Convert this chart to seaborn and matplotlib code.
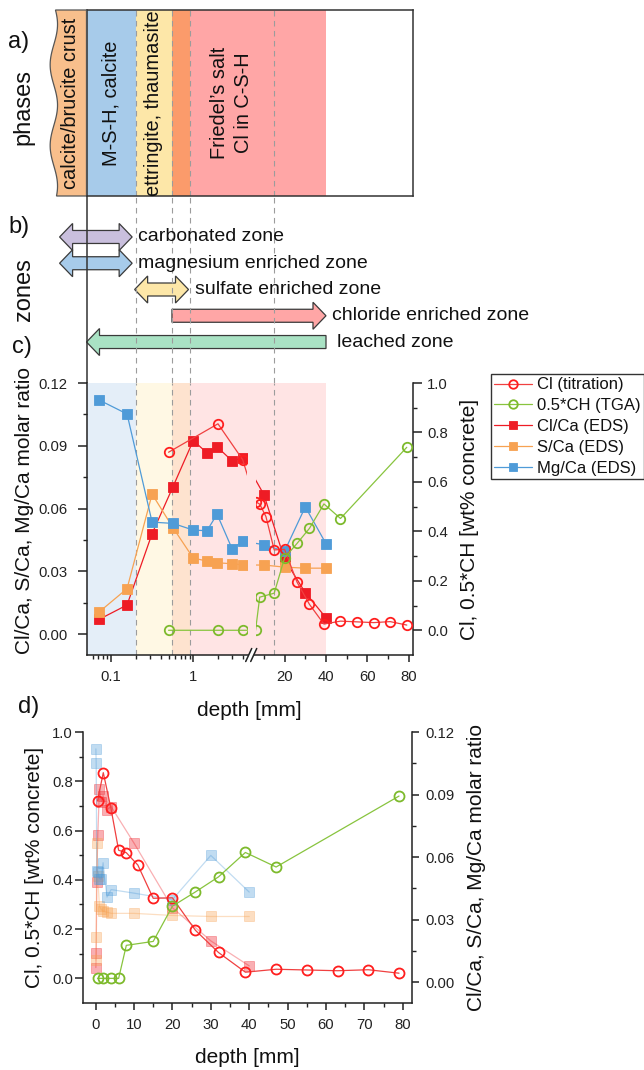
import numpy as np
import matplotlib
matplotlib.use("Agg")
import matplotlib.pyplot as plt
import matplotlib.transforms as mtransforms
from matplotlib.patches import Polygon
from matplotlib.lines import Line2D
from matplotlib.transforms import Bbox, TransformedBbox
import seaborn as sns

# ---------------- data ----------------
eds_depth = [0.071, 0.156, 0.315, 0.567, 1.0, 1.47, 1.95, 2.97, 4.05, 10, 20, 30, 40]
cl_ca = [0.0070, 0.0139, 0.0480, 0.0705, 0.0925, 0.0866, 0.0895, 0.0828, 0.0842, 0.0667, 0.0357, 0.0198, 0.0078]
s_ca = [0.0105, 0.0217, 0.0669, 0.0508, 0.0363, 0.0349, 0.0341, 0.0336, 0.0330, 0.0330, 0.0320, 0.0315, 0.0315]
mg_ca = [0.1119, 0.1052, 0.0535, 0.0529, 0.0497, 0.0494, 0.0573, 0.0408, 0.0444, 0.0427, 0.0396, 0.0608, 0.0432]

cl_depth = [0.5, 2, 4, 6, 8, 11, 15, 20, 26, 32, 39, 47, 55, 63, 71, 79]
cl_tit = [0.72, 0.835, 0.69, 0.52, 0.51, 0.46, 0.325, 0.327, 0.195, 0.105, 0.025, 0.037, 0.034, 0.031, 0.035, 0.021]

ch_depth = [0.5, 2, 4, 6, 8, 15, 20, 26, 32, 39, 47, 79]
ch_half = [0.0, 0.0, 0.0, 0.0, 0.134, 0.150, 0.293, 0.351, 0.412, 0.511, 0.452, 0.740]

series_labels = ["Cl (titration)", "0.5*CH (TGA)", "Cl/Ca (EDS)", "S/Ca (EDS)", "Mg/Ca (EDS)"]

# phases (panel a) and backgrounds (panel c)
phase_edges = [0.05, 0.2, 0.55, 0.9, 40]
phase_colors = ["#A7CBEA", "#FDE7A8", "#FB9B6B", "#FFA6A6"]
bg_colors = ["#E4EEF8", "#FFF8E4", "#FEE3CF", "#FFE4E4"]
boundary_depths = [0.2, 0.55, 0.9, 15]
crust_edge = 0.02
crust_label = "calcite/brucite crust"
phase_labels = ["M-S-H, calcite", "ettringite, thaumasite", "Friedel\u2019s salt\nCl in C-S-H"]
phase_label_depth = [0.1, 0.33, 2.9]

# zones (panel b)
zone_names = ["carbonated zone", "magnesium enriched zone", "sulfate enriched zone",
              "chloride enriched zone", "leached zone"]
zone_start = [0.0235, 0.0235, 0.193, 0.55, 0.05]
zone_end = [0.18, 0.18, 0.875, 40, 40]
zone_heads = ["both", "both", "both", "right", "left"]
zone_colors = ["#C9BFDD", "#A7CBEA", "#FDE7A8", "#FFA6A6", "#A9E2C4"]

# ticks
c_xticks = [0.1, 1, 20, 40, 60, 80]
c_xticklabels = ["0.1", "1", "20", "40", "60", "80"]
c_xminor = [0.06, 0.07, 0.08, 0.09, 0.2, 0.3, 0.4, 0.5, 0.6, 0.7, 0.8, 0.9, 2, 3, 4, 10, 30, 50, 70]
ratio_ticks = [0.0, 0.03, 0.06, 0.09, 0.12]
ratio_minor = [0.015, 0.045, 0.075, 0.105]
wt_ticks = [0.0, 0.2, 0.4, 0.6, 0.8, 1.0]
wt_minor = [0.1, 0.3, 0.5, 0.7, 0.9]
d_xticks = [0, 10, 20, 30, 40, 50, 60, 70, 80]
d_xminor = [5, 15, 25, 35, 45, 55, 65, 75]

# ---------------- broken depth scale: log part + linear part ----------------
X0, B1, B2 = 0.05, 4.5, 6.0
DEC, GAP, LIN = 82.0, 8.7, 2.07
UB1 = DEC * np.log10(B1 / X0)


def fwd(x):
    x = np.asarray(x, dtype=float)
    xs = np.where(x > 1e-9, x, 1e-9)
    u_log = DEC * np.log10(xs / X0)
    u_gap = UB1 + (x - B1) / (B2 - B1) * GAP
    u_lin = UB1 + GAP + (x - B2) * LIN
    return np.where(x <= B1, u_log, np.where(x < B2, u_gap, u_lin))


def inv(u):
    u = np.asarray(u, dtype=float)
    x_log = X0 * 10 ** (np.clip(u, -1e4, UB1) / DEC)
    x_gap = B1 + (u - UB1) / GAP * (B2 - B1)
    x_lin = B2 + (u - UB1 - GAP) / LIN
    return np.where(u <= UB1, x_log, np.where(u < UB1 + GAP, x_gap, x_lin))


# ---------------- style ----------------
sns.set_theme(style="ticks")
plt.rcParams["font.family"] = ["Liberation Sans", "DejaVu Sans"]
plt.rcParams["axes.linewidth"] = 1.1
plt.rcParams["axes.edgecolor"] = "#222222"
plt.rcParams["text.color"] = "#111111"
plt.rcParams["axes.labelcolor"] = "#111111"
plt.rcParams["xtick.color"] = "#222222"
plt.rcParams["ytick.color"] = "#222222"

W, H = 644, 1070
fig = plt.figure(figsize=(W / 100, H / 100), dpi=100)
fig.patch.set_facecolor("white")


def rect(x0, y0, x1, y1):
    return [x0 / W, 1 - y1 / H, (x1 - x0) / W, (y1 - y0) / H]


ax_a = fig.add_axes(rect(86.5, 10, 413, 196))
ax_b = fig.add_axes(rect(86.5, 196, 413, 383))
ax_c = fig.add_axes(rect(86.5, 383, 413, 655))
ax_d = fig.add_axes(rect(83.3, 732, 411.7, 1003))

for ax in (ax_a, ax_b, ax_c):
    ax.set_xscale("function", functions=(fwd, inv))
    ax.set_xlim(X0, 82)

TICK = 10.7
LAB = 15
dash = (0, (5, 4))
dcol = "#9C9C9C"

# ---------------- panel a: phases ----------------
ax_a.set_ylim(0, 1)
for i in range(len(phase_colors)):
    ax_a.axvspan(phase_edges[i], phase_edges[i + 1], color=phase_colors[i], lw=0, zorder=1)
for d in boundary_depths:
    ax_a.axvline(d, color=dcol, lw=0.8, ls=dash, zorder=2)
blend_a = mtransforms.blended_transform_factory(ax_a.transData, ax_a.transAxes)
yy = np.linspace(1, 0, 80)
xx = crust_edge * 10 ** (0.045 * np.sin(2 * np.pi * 2.3 * yy + 0.8))
verts = [(X0, 1)] + list(zip(xx, yy)) + [(X0, 0)]
crust = Polygon(verts, closed=True, transform=blend_a, facecolor="#F8BF8C",
                edgecolor="#555555", lw=0.9, clip_on=False, zorder=3)
ax_a.add_artist(crust)
ax_a.text(np.sqrt(crust_edge * X0), 0.5, crust_label, rotation=90, ha="center", va="center",
          fontsize=14.4, transform=blend_a, zorder=4)
for lab, dx in zip(phase_labels, phase_label_depth):
    ax_a.text(dx, 0.5, lab, rotation=90, ha="center", va="center", fontsize=14.4,
              transform=blend_a, linespacing=1.35, multialignment="center", zorder=4)
for s in ax_a.spines.values():
    s.set_color("#333333")
    s.set_linewidth(1.1)
ax_a.tick_params(which="both", length=0, labelbottom=False, labelleft=False)
ax_a.set_xticks([])
ax_a.set_xticks([], minor=True)
ax_a.set_yticks([])

# ---------------- panel b: zones ----------------
ax_b.set_ylim(-1.56, 5.56)
ax_b.patch.set_visible(False)
for k in ("top", "right", "bottom"):
    ax_b.spines[k].set_visible(False)
ax_b.spines["left"].set_color("#333333")
ax_b.tick_params(which="both", length=0, labelbottom=False, labelleft=False)
ax_b.set_xticks([])
ax_b.set_xticks([], minor=True)
ax_b.set_yticks([])
for d in boundary_depths:
    ax_b.axvline(d, color=dcol, lw=0.8, ls=dash, zorder=3)

# ---------------- panel c ----------------
ax_c2 = ax_c.twinx()
ax_c.set_ylim(-0.01, 0.12)
ax_c2.set_ylim(-0.1, 1.0)
for i in range(len(bg_colors)):
    ax_c.axvspan(phase_edges[i], phase_edges[i + 1], color=bg_colors[i], lw=0, zorder=0)
for d in boundary_depths:
    ax_c.axvline(d, color=dcol, lw=0.8, ls=dash, zorder=1)

segments = [(X0 * 0.5, B1), (B2, 100)]


def draw(ax, x, y, color, lcolor, marker, filled, ms, segs=None, alpha=1.0, lw=0.9):
    out = []
    for seg in (segs if segs is not None else [None]):
        sns.lineplot(x=x, y=y, ax=ax, estimator=None, sort=False, legend=False, errorbar=None,
                     color=lcolor, linewidth=lw, marker=marker, markersize=ms,
                     markerfacecolor=(color if filled else "none"), markeredgecolor=color,
                     markeredgewidth=(0.6 if filled else 1.3), alpha=alpha, zorder=3)
        ln = ax.lines[-1]
        if seg is not None:
            bl = mtransforms.blended_transform_factory(ax.transData, ax.transAxes)
            ln.set_clip_box(TransformedBbox(Bbox([[seg[0], -1.0], [seg[1], 2.0]]), bl))
        out.append(ln)
    return out[0]


C_CLT, L_CLT = "#FF1E1E", "#F04040"
C_CH, L_CH = "#7DBA2C", "#88C43E"
C_CLCA = "#EE1C25"
C_SCA = "#F7A252"
C_MG = "#4F9BD8"

h_clca = draw(ax_c, eds_depth, cl_ca, C_CLCA, C_CLCA, "s", True, 6.6, segments)
h_sca = draw(ax_c, eds_depth, s_ca, C_SCA, C_SCA, "s", True, 6.6, segments)
h_mg = draw(ax_c, eds_depth, mg_ca, C_MG, C_MG, "s", True, 6.6, segments)
h_clt = draw(ax_c2, cl_depth, cl_tit, C_CLT, L_CLT, "o", False, 6.8, segments)
h_ch = draw(ax_c2, ch_depth, ch_half, C_CH, L_CH, "o", False, 6.8, segments)
ax_c.set_xlim(X0, 82)

ax_c.set_xticks(c_xticks, labels=c_xticklabels)
ax_c.set_xticks(c_xminor, minor=True)
ax_c.set_yticks(ratio_ticks, labels=[f"{v:.2f}" for v in ratio_ticks])
ax_c.set_yticks(ratio_minor, minor=True)
ax_c2.set_yticks(wt_ticks, labels=[f"{v:.1f}" for v in wt_ticks])
ax_c2.set_yticks(wt_minor, minor=True)
ax_c.tick_params(axis="x", which="major", direction="out", length=5, width=1.1, pad=6.0, labelsize=TICK)
ax_c.tick_params(axis="x", which="minor", direction="out", length=3, width=1.0)
ax_c.tick_params(axis="y", which="major", direction="out", length=6.2, width=1.1, pad=7.5, labelsize=TICK)
ax_c.tick_params(axis="y", which="minor", direction="out", length=3.2, width=1.0)
ax_c2.tick_params(axis="y", which="major", direction="out", length=6.5, width=1.1, pad=3.5, labelsize=TICK)
ax_c2.tick_params(axis="y", which="minor", direction="out", length=3.2, width=1.0)
for a in (ax_c, ax_c2):
    a.spines["top"].set_visible(False)
ax_c.spines["right"].set_visible(False)
ax_c2.spines["left"].set_visible(False)
ax_c2.spines["bottom"].set_visible(False)
ax_c.set_ylabel("Cl/Ca, S/Ca, Mg/Ca molar ratio", fontsize=LAB)
ax_c2.set_ylabel("Cl, 0.5*CH [wt% concrete]", fontsize=LAB)
ax_c.set_xlabel("depth [mm]", fontsize=LAB)
ax_c.yaxis.set_label_coords(-0.161, 0.533)
ax_c2.yaxis.set_label_coords(1.144, 0.5)
ax_c.xaxis.set_label_coords(0.5, -0.169)

# ---------------- panel d ----------------
ax_d2 = ax_d.twinx()
ax_d.set_zorder(ax_d2.get_zorder() + 1)
ax_d.patch.set_visible(False)
ax_d.set_ylim(-0.1, 1.0)
ax_d2.set_ylim(-0.01, 0.12)
draw(ax_d2, eds_depth, cl_ca, C_CLCA, C_CLCA, "s", True, 6.6, alpha=0.35)
draw(ax_d2, eds_depth, s_ca, C_SCA, C_SCA, "s", True, 6.6, alpha=0.35)
draw(ax_d2, eds_depth, mg_ca, C_MG, C_MG, "s", True, 6.6, alpha=0.35)
draw(ax_d, cl_depth, cl_tit, C_CLT, L_CLT, "o", False, 7.2)
draw(ax_d, ch_depth, ch_half, C_CH, L_CH, "o", False, 7.2)
ax_d.set_xlim(-3.2, 82.3)
ax_d.set_xticks(d_xticks, labels=[str(v) for v in d_xticks])
ax_d.set_xticks(d_xminor, minor=True)
ax_d.set_yticks(wt_ticks, labels=[f"{v:.1f}" for v in wt_ticks])
ax_d.set_yticks(wt_minor, minor=True)
ax_d2.set_yticks(ratio_ticks, labels=[f"{v:.2f}" for v in ratio_ticks])
ax_d2.set_yticks(ratio_minor, minor=True)
ax_d.tick_params(axis="x", which="major", direction="out", length=5, width=1.1, pad=5.5, labelsize=TICK)
ax_d.tick_params(axis="x", which="minor", direction="out", length=3, width=1.0)
ax_d.tick_params(axis="y", which="major", direction="out", length=6, width=1.1, pad=1.5, labelsize=TICK)
ax_d.tick_params(axis="y", which="minor", direction="out", length=3.2, width=1.0)
ax_d2.tick_params(axis="y", which="major", direction="out", length=5, width=1.1, pad=5, labelsize=TICK)
ax_d2.tick_params(axis="y", which="minor", direction="out", length=3, width=1.0)
for a in (ax_d, ax_d2):
    a.spines["top"].set_visible(False)
ax_d.spines["right"].set_visible(False)
ax_d2.spines["left"].set_visible(False)
ax_d2.spines["bottom"].set_visible(False)
ax_d.set_ylabel("Cl, 0.5*CH [wt% concrete]", fontsize=LAB)
ax_d2.set_ylabel("Cl/Ca, S/Ca, Mg/Ca molar ratio", fontsize=LAB)
ax_d.set_xlabel("depth [mm]", fontsize=LAB)
ax_d.yaxis.set_label_coords(-0.12, 0.5)
ax_d2.yaxis.set_label_coords(1.168, 0.5)
ax_d.xaxis.set_label_coords(0.5, -0.166)

# ---------------- legend ----------------
leg = fig.legend([h_clt, h_ch, h_clca, h_sca, h_mg], series_labels, loc="upper left",
                 bbox_to_anchor=(490.7 / W, 1 - 374 / H), frameon=True, fancybox=False,
                 edgecolor="#333333", framealpha=1, fontsize=12, handlelength=2.3,
                 handletextpad=0.3, borderpad=0.2, labelspacing=0.35, borderaxespad=0,
                 markerscale=0.9)
leg.get_frame().set_linewidth(1.0)

# ---------------- panel labels ----------------
fig.text(19 / W, 1 - 42 / H, "a)", ha="center", va="center", fontsize=17)
fig.text(23 / W, 1 - 107 / H, "phases", ha="center", va="center", rotation=90, fontsize=17)
fig.text(19 / W, 1 - 227 / H, "b)", ha="center", va="center", fontsize=17)
fig.text(24 / W, 1 - 290 / H, "zones", ha="center", va="center", rotation=90, fontsize=17)
fig.text(22 / W, 1 - 347 / H, "c)", ha="center", va="center", fontsize=17)
fig.text(29 / W, 1 - 707 / H, "d)", ha="center", va="center", fontsize=17)

# ---------------- zone arrows (computed from the depth scale) ----------------
fig.canvas.draw()
ident = mtransforms.IdentityTransform()
HH, HB, HL = 13.5, 6.5, 13.0
n_z = len(zone_names)
for i in range(n_z):
    row = (n_z - 1) - i
    xa = ax_b.transData.transform((zone_start[i], row))[0]
    xb, yc = ax_b.transData.transform((zone_end[i], row))
    if zone_heads[i] == "both":
        v = [(xa, yc), (xa + HL, yc + HH), (xa + HL, yc + HB), (xb - HL, yc + HB), (xb - HL, yc + HH),
             (xb, yc), (xb - HL, yc - HH), (xb - HL, yc - HB), (xa + HL, yc - HB), (xa + HL, yc - HH)]
    elif zone_heads[i] == "right":
        v = [(xa, yc + HB), (xb - HL, yc + HB), (xb - HL, yc + HH), (xb, yc),
             (xb - HL, yc - HH), (xb - HL, yc - HB), (xa, yc - HB)]
    else:
        v = [(xa, yc), (xa + HL, yc + HH), (xa + HL, yc + HB), (xb, yc + HB),
             (xb, yc - HB), (xa + HL, yc - HB), (xa + HL, yc - HH)]
    poly = Polygon(v, closed=True, facecolor=zone_colors[i], edgecolor="#3A3A3A", lw=0.9,
                   transform=ident, zorder=1)
    ax_b.add_artist(poly)
    poly.set_clip_on(False)
    off = 8 if zone_heads[i] == "left" else 4.5
    ax_b.annotate(zone_names[i], xy=(zone_end[i], row), xytext=(off, 0), textcoords="offset points",
                  ha="left", va="center", fontsize=14, annotation_clip=False, zorder=4)

# ---------------- axis break marks ----------------
cx = ax_c.transData.transform(((B1 + B2) / 2, 0))[0]
cy = ax_c.transAxes.transform((0, 0))[1]
gapfill = Polygon([(cx - 5.5, cy - 6.5), (cx + 0.5, cy + 6.5), (cx + 5.5, cy + 6.5), (cx - 0.5, cy - 6.5)],
                  closed=True, facecolor="white", edgecolor="none", transform=ident, zorder=5)
fig.add_artist(gapfill)
for dxs in (-2.5, 2.5):
    fig.add_artist(Line2D([cx + dxs - 3, cx + dxs + 3], [cy - 6.5, cy + 6.5], color="#222222",
                          lw=1.1, transform=ident, zorder=6))

fig.savefig("out.png", dpi=100, facecolor="white")
